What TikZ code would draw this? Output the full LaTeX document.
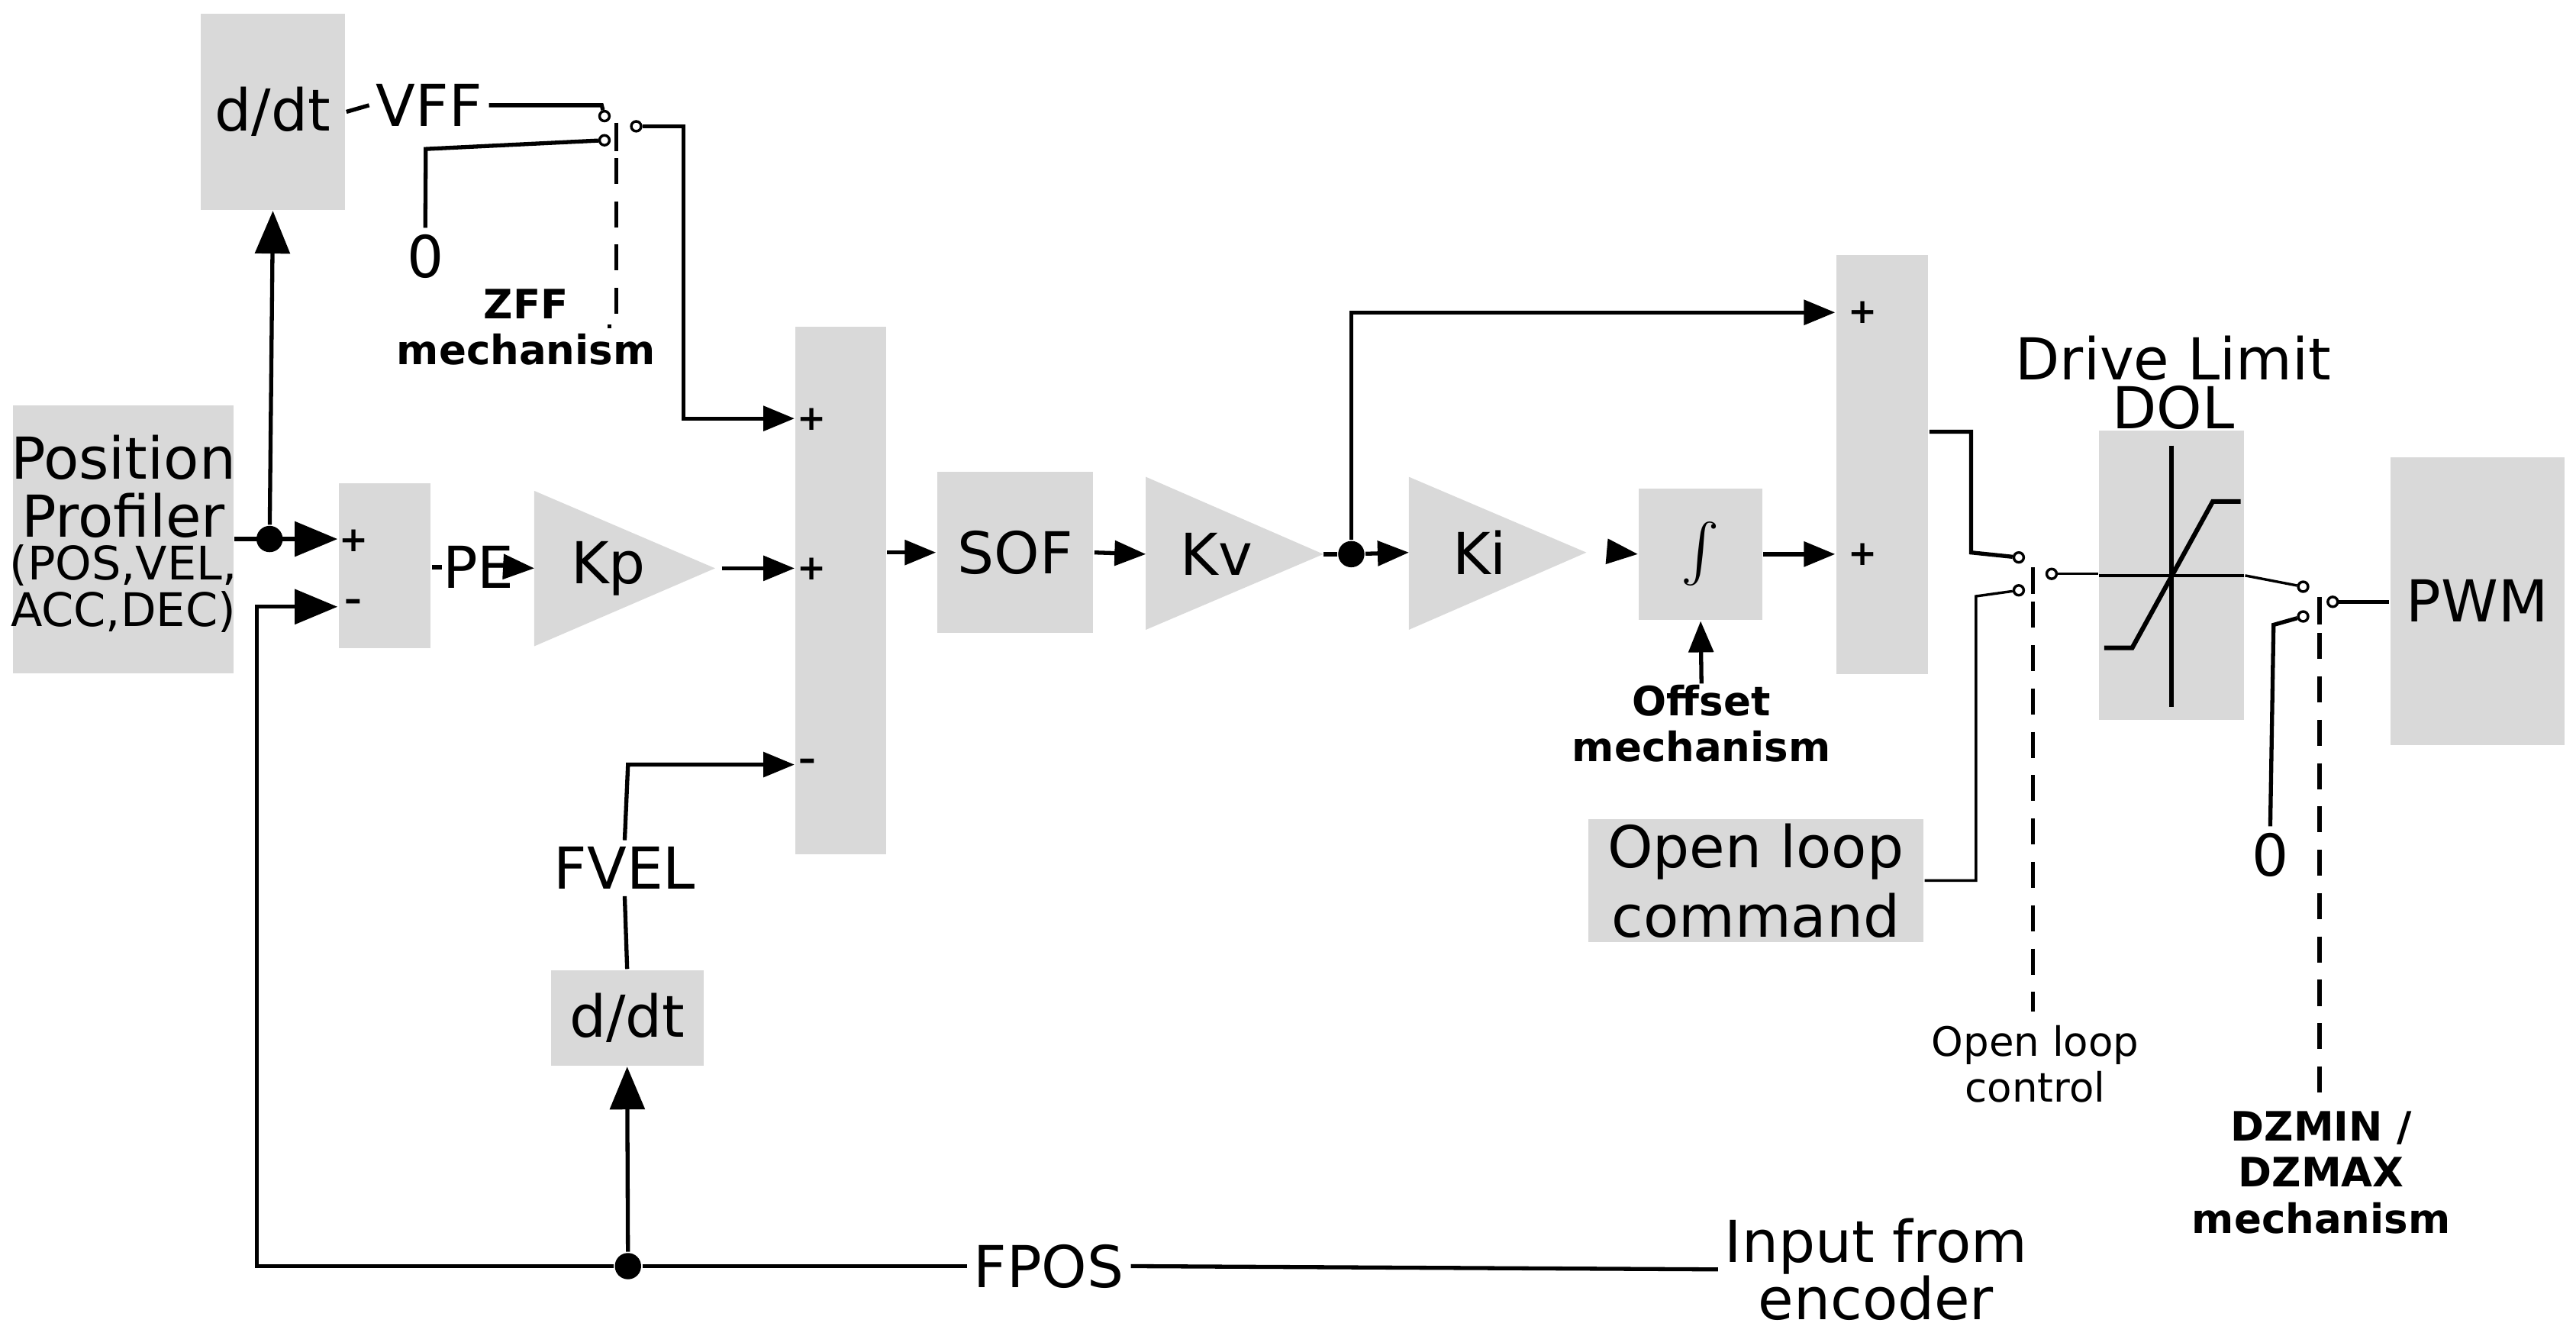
\documentclass[tikz,border=0pt]{standalone}
\usepackage{fontspec}
\setmainfont{DejaVu Sans}
\usetikzlibrary{arrows.meta}
\definecolor{blkgray}{RGB}{217,217,217}
\begin{document}
\begin{tikzpicture}[x=0.1mm,y=-0.1mm,
    blk/.style={fill=blkgray, inner sep=0pt, font=\fontsize{10}{12}\selectfont, align=center},
    sig/.style={line width=0.7pt},
    thin sig/.style={line width=0.45pt},
    arr/.style={sig, -{Triangle[length=1.9mm,width=1.5mm]}},
    big arr/.style={sig, -{Triangle[length=2.6mm,width=2.1mm]}},
    lbl/.style={inner sep=1pt, font=\fontsize{10}{12}\selectfont, align=center},
    sgn/.style={inner sep=0pt, font=\bfseries\fontsize{6}{7}\selectfont},
    mech/.style={inner sep=0pt, font=\bfseries\fontsize{7}{8}\selectfont, align=center},
    note/.style={inner sep=0pt, font=\fontsize{7}{8}\selectfont, align=center},
    term/.style={circle, draw, thin sig, fill=white, inner sep=0pt, minimum size=0.6mm},
    dot/.style={circle, fill=black, inner sep=0pt, minimum size=1.6mm},
    ]
    \useasboundingbox (0,0) rectangle (1567,812.5);

    %Blocks
    \node[blk, minimum width=8.8mm, minimum height=11.9mm] at (166,68) (ddtA) {d/dt};
    \node[blk, minimum width=13.4mm, minimum height=16.3mm] at (75,328) (prof) {};
    \node[lbl] at (75,296) {Position\\[-2pt]Profiler};
    \node[lbl, font=\fontsize{8}{9}\selectfont] at (75,358) {(POS,VEL,\\[-1pt]ACC,DEC)};
    \node[blk, minimum width=5.6mm, minimum height=10mm] at (234,344) (sumA) {};
    \node[blk, minimum width=5.5mm, minimum height=32.1mm] at (511.5,359) (sumB) {};
    \node[blk, minimum width=9.5mm, minimum height=9.8mm] at (617.5,336) (sof) {SOF};
    \node[blk, minimum width=7.5mm, minimum height=8mm] at (1034.5,337) (integ) {\fontsize{16}{16}\selectfont$\int$};
    \node[blk, minimum width=5.6mm, minimum height=25.5mm] at (1145,282.5) (sumC) {};
    \node[blk, minimum width=20.4mm, minimum height=7.5mm] at (1068,535.5) (olc) {Open loop\\command};
    \node[blk, minimum width=8.8mm, minimum height=17.6mm] at (1321,350) (dol) {};
    \node[blk, minimum width=10.6mm, minimum height=17.5mm] at (1507,365.5) (pwm) {PWM};
    \node[blk, minimum width=9.3mm, minimum height=5.8mm] at (381.5,619) (ddtB) {d/dt};

    %Gains
    \fill[blkgray] (325,298.5) -- (435,345.6) -- (325,393) -- cycle;
    \node[lbl] at (370,345.6) (kp) {Kp};
    \coordinate (kpin) at (325,345.6);
    \coordinate (kpout) at (435,345.6);
    \fill[blkgray] (697,290) -- (805,337) -- (697,383) -- cycle;
    \node[lbl] at (740,337) (kv) {Kv};
    \coordinate (kvin) at (697,337);
    \coordinate (kvout) at (805,337);
    \fill[blkgray] (857,290) -- (965,336) -- (857,383) -- cycle;
    \node[lbl] at (900,336) (ki) {Ki};
    \coordinate (kiin) at (857,336);
    \coordinate (kiout) at (965,336);

    %Drive limit curve
    \draw[line width=0.8pt] (1321,271) -- (1321,430);
    \draw[thin sig] (1277,350) -- (1365,350);
    \draw[line width=0.8pt] (1280,394) -- (1297,394) -- (1346,305) -- (1363,305);
    \node[lbl] at (1322,218) {Drive Limit};
    \node[lbl] at (1322,248) {DOL};

    %Signs
    \node[sgn] at (215,329) {+};
    \node[sgn] at (215,368) {--};
    \node[sgn] at (494,255) {+};
    \node[sgn] at (494,346) {+};
    \node[sgn] at (491,465) {--};
    \node[sgn] at (1133,190) {+};
    \node[sgn] at (1133,337) {+};

    %Switches
    \node[term] at (367.7,70.6) (swAa) {};
    \node[term] at (367.7,85.3) (swAb) {};
    \node[term] at (387,76.8) (swAo) {};
    \node[term] at (1228,339) (swBa) {};
    \node[term] at (1228,359) (swBb) {};
    \node[term] at (1248,349) (swBo) {};
    \node[term] at (1401,356.8) (swCa) {};
    \node[term] at (1401,374.9) (swCb) {};
    \node[term] at (1419,366) (swCo) {};
    \draw[sig] (374.8,74.6) -- (374.8,92);
    \draw[sig] (1236.5,345) -- (1236.5,361);
    \draw[sig] (1411,363) -- (1411,380);

    %Labels
    \node[lbl, fill=white] at (261,64) (vff) {VFF};
    \node[lbl] at (258.7,156) (zeroA) {0};
    \node[lbl] at (1381,520) (zeroB) {0};
    \node[lbl, fill=white, inner sep=0pt] at (291,345) (pe) {PE};
    \node[lbl, fill=white] at (380,528) (fvel) {FVEL};
    \node[lbl, fill=white] at (638,770) (fpos) {FPOS};
    \node[lbl, anchor=west] at (1045,772) (enc) {Input from\\[-2pt]encoder};
    \node[mech] at (320,199) {ZFF\\mechanism};
    \node[mech] at (1035,440) (offs) {Offset\\mechanism};
    \node[note] at (1238,647) {Open loop\\control};
    \node[mech] at (1412,713) {DZMIN /\\DZMAX\\mechanism};

    %Junctions
    \node[dot] at (164,327.8) (jA) {};
    \node[dot] at (382,770) (jB) {};
    \node[dot] at (822,337) (jC) {};

    %Lines
    \draw[sig] (ddtA.east) -- (vff.west);
    \draw[sig] (vff.east) -- (366,64) -- (swAa);
    \draw[sig] (swAb) -- (259,90.6) -- (zeroA.north);
    \draw[arr] (swAo) -- (415.7,76.8) -- (415.7,254.5) -- (sumB.west |- 0,254.5);
    \draw[sig, dash pattern=on 4.5pt off 3pt] (374.8,96) -- (374.8,198.5) -- (369.5,198.5);
    \draw[big arr] (prof.east |- jA) -- (sumA.west |- jA);
    \draw[big arr] (jA) -- (ddtA.south);
    \draw[big arr] (jB) -- (156.3,770) -- (156.3,369) -- (sumA.west |- 0,369);
    \draw[sig] (sumA.east |- pe) -- (pe.west);
    \draw[arr] (pe.east) -- (kpin);
    \draw[arr] (kpout) ++(4,0) -- (sumB.west |- kpout);
    \draw[sig] (ddtB.north) -- (fvel.south);
    \draw[arr] (fvel.north) -- (382,465) -- (sumB.west |- 0,465);
    \draw[sig] (jB) -- (fpos.west);
    \draw[sig] (fpos.east) -- (enc.west);
    \draw[big arr] (jB) -- (ddtB.south);
    \draw[arr] (sumB.east |- sof) -- (sof.west);
    \draw[arr] (sof.east) -- (kvin);
    \draw[sig] (kvout) -- (jC);
    \draw[arr] (jC) -- (kiin);
    \draw[arr] (jC) -- (822,190) -- (sumC.west |- 0,190);
    \draw[arr] (kiout) ++(20,0) -- (integ.west);
    \draw[arr] (integ.east) -- (sumC.west |- integ);
    \draw[arr] (offs.north) -- (integ.south);
    \draw[sig] (sumC.east |- 0,262.5) -- (1199,262.5) -- (1199,336) -- (swBa);
    \draw[thin sig] (olc.east) -- (1202,535.5) -- (1202,362.6) -- (swBb);
    \draw[thin sig] (swBo) -- (dol.west |- swBo);
    \draw[sig, dash pattern=on 4.5pt off 3pt] (1236.5,366) -- (1236.5,615);
    \draw[thin sig] (dol.east |- 0,350) -- (swCa);
    \draw[sig] (zeroB.north) -- (1383,380) -- (swCb);
    \draw[sig] (swCo) -- (pwm.west |- swCo);
    \draw[sig, dash pattern=on 4.5pt off 3pt] (1411,385) -- (1411,672);
\end{tikzpicture}
\end{document}
